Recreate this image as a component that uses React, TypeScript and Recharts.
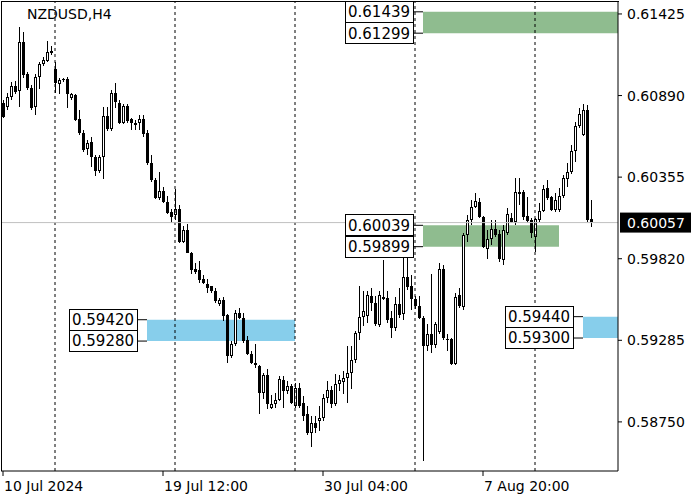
import React from 'react';
import { ComposedChart, Bar, XAxis, YAxis, ReferenceLine, ReferenceArea } from 'recharts';

const FONT = '"DejaVu Sans", sans-serif';

// H4 candles, oldest first
const opens = [
  0.60840, 0.60814, 0.60880, 0.60952, 0.60919, 0.61241, 0.61031, 0.60939, 0.60814, 0.61011,
  0.61096, 0.61116, 0.61169, 0.61064, 0.60965, 0.60998, 0.60998, 0.60873, 0.60893, 0.60735,
  0.60643, 0.60538, 0.60584, 0.60485, 0.60393, 0.60485, 0.60755, 0.60669, 0.60906, 0.60840,
  0.60709, 0.60821, 0.60735, 0.60696, 0.60709, 0.60735, 0.60643, 0.60446, 0.60334, 0.60216,
  0.60262, 0.60190, 0.60124, 0.60104, 0.60144, 0.59927, 0.60006, 0.59855, 0.59750, 0.59743,
  0.59684, 0.59657, 0.59638, 0.59611, 0.59525, 0.59552, 0.59453, 0.59184, 0.59262, 0.59466,
  0.59433, 0.59289, 0.59197, 0.59125, 0.59118, 0.58940, 0.59059, 0.58842, 0.58868, 0.58894,
  0.59026, 0.58954, 0.58987, 0.58855, 0.58973, 0.58875, 0.58803, 0.58678, 0.58743, 0.58757,
  0.58776, 0.58908, 0.58960, 0.58868, 0.59000, 0.59013, 0.59039, 0.59072, 0.59158, 0.59335,
  0.59440, 0.59446, 0.59578, 0.59532, 0.59387, 0.59565, 0.59565, 0.59433, 0.59368, 0.59525,
  0.59453, 0.59697, 0.59644, 0.59558, 0.59512, 0.59433, 0.59249, 0.59328, 0.59256, 0.59335,
  0.59750, 0.59295, 0.59295, 0.59131, 0.59585, 0.59499, 0.59973, 0.60072, 0.60157, 0.60190,
  0.60091, 0.59881, 0.59947, 0.60013, 0.59980, 0.59808, 0.59986, 0.60085, 0.60058, 0.60249,
  0.60255, 0.60098, 0.60072, 0.59960, 0.60072, 0.60131, 0.60282, 0.60223, 0.60137, 0.60137,
  0.60229, 0.60341, 0.60387, 0.60525, 0.60689, 0.60630, 0.60794, 0.60078,
];

const highs = [
  0.60860, 0.60906, 0.60978, 0.60985, 0.61340, 0.61307, 0.61044, 0.60958, 0.61031, 0.61110,
  0.61142, 0.61248, 0.61215, 0.61110, 0.61004, 0.61004, 0.61011, 0.60906, 0.60899, 0.60794,
  0.60663, 0.60597, 0.60617, 0.60499, 0.60499, 0.60814, 0.60814, 0.60926, 0.60972, 0.60860,
  0.60834, 0.60834, 0.60742, 0.60729, 0.60761, 0.60761, 0.60663, 0.60499, 0.60347, 0.60387,
  0.60288, 0.60229, 0.60144, 0.60275, 0.60170, 0.60032, 0.60045, 0.59861, 0.59795, 0.59802,
  0.59710, 0.59684, 0.59644, 0.59625, 0.59565, 0.59572, 0.59460, 0.59282, 0.59486, 0.59499,
  0.59466, 0.59315, 0.59217, 0.59262, 0.59125, 0.59072, 0.59098, 0.58927, 0.58940, 0.59052,
  0.59052, 0.59020, 0.59000, 0.59007, 0.59007, 0.58921, 0.58855, 0.58790, 0.58790, 0.58855,
  0.58934, 0.59020, 0.58987, 0.59066, 0.59059, 0.59085, 0.59249, 0.59249, 0.59348, 0.59638,
  0.59611, 0.59611, 0.59631, 0.59578, 0.59611, 0.59809, 0.59611, 0.59479, 0.59572, 0.59625,
  0.59822, 0.59822, 0.59710, 0.59578, 0.59578, 0.59446, 0.59394, 0.59723, 0.59407, 0.59795,
  0.59776, 0.59328, 0.59302, 0.59598, 0.59631, 0.59986, 0.60104, 0.60203, 0.60249, 0.60216,
  0.60098, 0.60006, 0.60072, 0.60072, 0.60006, 0.60039, 0.60150, 0.60118, 0.60347, 0.60347,
  0.60269, 0.60223, 0.60085, 0.60085, 0.60183, 0.60301, 0.60334, 0.60229, 0.60249, 0.60282,
  0.60367, 0.60446, 0.60564, 0.60716, 0.60807, 0.60834, 0.60827, 0.60203,
];

const lows = [
  0.60742, 0.60794, 0.60860, 0.60899, 0.60814, 0.61004, 0.60926, 0.60794, 0.60761, 0.60932,
  0.61083, 0.61110, 0.61156, 0.60906, 0.60899, 0.60978, 0.60807, 0.60860, 0.60722, 0.60630,
  0.60518, 0.60499, 0.60420, 0.60360, 0.60380, 0.60341, 0.60657, 0.60657, 0.60807, 0.60702,
  0.60702, 0.60709, 0.60663, 0.60663, 0.60663, 0.60617, 0.60433, 0.60321, 0.60209, 0.60203,
  0.60183, 0.60111, 0.60052, 0.60072, 0.59920, 0.59920, 0.59855, 0.59716, 0.59723, 0.59657,
  0.59651, 0.59592, 0.59598, 0.59525, 0.59512, 0.59414, 0.59138, 0.59171, 0.59249, 0.59427,
  0.59269, 0.59190, 0.59131, 0.59105, 0.58803, 0.58901, 0.58835, 0.58835, 0.58842, 0.58888,
  0.58842, 0.58934, 0.58868, 0.58842, 0.58842, 0.58757, 0.58665, 0.58586, 0.58678, 0.58691,
  0.58757, 0.58875, 0.58842, 0.58855, 0.58954, 0.58934, 0.58875, 0.58967, 0.59138, 0.59282,
  0.59381, 0.59400, 0.59479, 0.59381, 0.59374, 0.59545, 0.59400, 0.59302, 0.59348, 0.59427,
  0.59414, 0.59611, 0.59479, 0.59492, 0.59427, 0.58494, 0.59217, 0.59204, 0.59236, 0.59328,
  0.59282, 0.59217, 0.59125, 0.59125, 0.59499, 0.59479, 0.59927, 0.60039, 0.60150, 0.60085,
  0.59887, 0.59815, 0.59907, 0.59960, 0.59795, 0.59776, 0.59973, 0.60052, 0.60039, 0.60170,
  0.60072, 0.60052, 0.59953, 0.59861, 0.60058, 0.60124, 0.60203, 0.60131, 0.60124, 0.60124,
  0.60216, 0.60288, 0.60374, 0.60453, 0.60676, 0.60624, 0.60058, 0.60026,
];

const closes = [
  0.60748, 0.60880, 0.60952, 0.60912, 0.61241, 0.61024, 0.60939, 0.60807, 0.61011, 0.61096,
  0.61123, 0.61175, 0.61182, 0.60972, 0.60991, 0.60991, 0.60899, 0.60899, 0.60729, 0.60643,
  0.60531, 0.60577, 0.60485, 0.60393, 0.60485, 0.60755, 0.60669, 0.60906, 0.60847, 0.60709,
  0.60821, 0.60722, 0.60709, 0.60709, 0.60735, 0.60637, 0.60446, 0.60334, 0.60216, 0.60262,
  0.60190, 0.60118, 0.60091, 0.60144, 0.59927, 0.60006, 0.59855, 0.59743, 0.59730, 0.59677,
  0.59657, 0.59631, 0.59605, 0.59545, 0.59552, 0.59446, 0.59184, 0.59262, 0.59466, 0.59433,
  0.59282, 0.59197, 0.59138, 0.59138, 0.58940, 0.59059, 0.58868, 0.58868, 0.58894, 0.59033,
  0.58954, 0.58987, 0.58875, 0.58973, 0.58855, 0.58790, 0.58678, 0.58743, 0.58711, 0.58776,
  0.58908, 0.58960, 0.58868, 0.59000, 0.59026, 0.59039, 0.59072, 0.59158, 0.59335, 0.59440,
  0.59479, 0.59585, 0.59532, 0.59394, 0.59585, 0.59572, 0.59420, 0.59368, 0.59525, 0.59453,
  0.59697, 0.59631, 0.59558, 0.59512, 0.59433, 0.59249, 0.59328, 0.59256, 0.59394, 0.59750,
  0.59295, 0.59289, 0.59131, 0.59572, 0.59512, 0.59973, 0.60072, 0.60157, 0.60196, 0.60091,
  0.59894, 0.59947, 0.60013, 0.59973, 0.59815, 0.60006, 0.60111, 0.60058, 0.60255, 0.60255,
  0.60091, 0.60065, 0.59986, 0.60078, 0.60131, 0.60275, 0.60216, 0.60137, 0.60203, 0.60229,
  0.60347, 0.60387, 0.60525, 0.60689, 0.60768, 0.60794, 0.60072, 0.60057,
];

const xTicks = [0, 40, 80, 120];
const xTickLabels = ['10 Jul 2024', '19 Jul 12:00', '30 Jul 04:00', '7 Aug 20:00'];
const yTicks = [0.5875, 0.59285, 0.5982, 0.60355, 0.6089, 0.61425];
const separators = [13, 43, 73, 103, 133];
const lastPrice = 0.60057;

// supply / demand zones
const zoneTops = [0.61439, 0.60039, 0.5942, 0.5944];
const zoneBottoms = [0.61299, 0.59899, 0.5928, 0.593];
const zoneFrom = [105, 105, 36, 145];
const zoneTo = [153.75, 139, 73, 153.75];
const zoneColors = ['#8fbc8f', '#8fbc8f', '#87ceeb', '#87ceeb'];

const data = opens.map((o, i) => ({
  i,
  open: o,
  high: highs[i],
  low: lows[i],
  close: closes[i],
  range: [lows[i], highs[i]],
}));

const Candle = (props: any) => {
  const { x, y, width, height, payload } = props;
  if (!payload || payload.high == null) return null;
  const top = Math.min(y, y + height);
  const bottom = Math.max(y, y + height);
  const span = payload.high - payload.low || 1e-9;
  const toY = (v: number) => top + ((payload.high - v) / span) * (bottom - top);
  const cx = Math.round(x + width / 2);
  const yo = toY(payload.open);
  const yc = toY(payload.close);
  const bodyTop = Math.round(Math.min(yo, yc));
  const bodyH = Math.max(1, Math.round(Math.abs(yo - yc)));
  const up = payload.close > payload.open;
  return (
    <g shapeRendering="crispEdges">
      <rect x={cx} y={Math.round(top)} width={1} height={Math.max(1, Math.round(bottom - top))} fill="#000" />
      {up ? (
        <rect x={cx - 0.5} y={bodyTop + 0.5} width={2} height={Math.max(bodyH, 2) - 1} fill="#fff" stroke="#000" strokeWidth={1} />
      ) : (
        <rect x={cx - 1} y={bodyTop} width={3} height={bodyH} fill="#000" />
      )}
    </g>
  );
};

const DateTick = (props: any) => {
  const { x, y, payload } = props;
  const label = xTickLabels[xTicks.indexOf(payload.value)];
  return (
    <text x={x + 1} y={y} dy={11} fontSize={14} fontFamily={FONT} fill="#000" textAnchor="start">
      {label}
    </text>
  );
};

const boxLabel = (text: string) => (p: any) => {
  const vb = p.viewBox;
  if (!vb) return null;
  return (
    <g shapeRendering="crispEdges">
      <rect x={vb.x - 68} y={vb.y - 10.5} width={68} height={21} fill="#fff" stroke="#000" strokeWidth={1} />
      <text x={vb.x - 34} y={vb.y} dy="0.36em" textAnchor="middle" fontSize={15} fontFamily={FONT} fill="#000">
        {text}
      </text>
    </g>
  );
};

const priceLabel = (p: any) => {
  const vb = p.viewBox;
  if (!vb) return null;
  const right = vb.x + vb.width;
  return (
    <g>
      <rect x={right + 2} y={vb.y - 10} width={71} height={20} fill="#000" />
      <text x={right + 9} y={vb.y} dy="0.36em" fontSize={14} fontFamily={FONT} fill="#fff">
        {lastPrice.toFixed(5)}
      </text>
    </g>
  );
};

export default function App() {
  return (
    <div style={{ position: 'absolute', left: 0, top: 0, width: 700, height: 500, background: '#fff' }}>
      <ComposedChart
        width={700}
        height={500}
        data={data}
        margin={{ top: 1, right: 0, left: 1, bottom: 0 }}
      >
        <XAxis
          dataKey="i"
          type="number"
          domain={[-0.5, 153.75]}
          allowDataOverflow
          ticks={xTicks}
          interval={0}
          height={29}
          tickSize={5}
          tickMargin={4}
          axisLine={{ stroke: '#000' }}
          tickLine={{ stroke: '#000' }}
          tick={<DateTick />}
        />
        <YAxis
          orientation="right"
          domain={[0.58428, 0.6151]}
          allowDataOverflow
          ticks={yTicks}
          interval={0}
          width={82}
          tickSize={4}
          tickMargin={5}
          axisLine={{ stroke: '#000' }}
          tickLine={{ stroke: '#000' }}
          tickFormatter={(v: number) => v.toFixed(5)}
          tick={{ fontSize: 14, fill: '#000', fontFamily: FONT }}
        />
        {zoneTops.map((t, k) => (
          <ReferenceArea
            key={'z' + k}
            x1={zoneFrom[k]}
            x2={zoneTo[k]}
            y1={zoneBottoms[k]}
            y2={t}
            fill={zoneColors[k]}
            fillOpacity={1}
            stroke="none"
          />
        ))}
        {separators.map((s) => (
          <ReferenceLine key={'s' + s} x={s} stroke="#000" strokeDasharray="3 3" />
        ))}
        <ReferenceLine y={lastPrice} stroke="#c0c0c0" label={priceLabel} />
        <Bar dataKey="range" barSize={4} shape={<Candle />} isAnimationActive={false} />
        {zoneTops.map((t, k) => (
          <ReferenceLine
            key={'lt' + k}
            segment={[{ x: zoneFrom[k] - 2.5, y: t }, { x: zoneFrom[k], y: t }]}
            stroke="#000"
            label={boxLabel(t.toFixed(5))}
          />
        ))}
        {zoneBottoms.map((b, k) => (
          <ReferenceLine
            key={'lb' + k}
            segment={[{ x: zoneFrom[k] - 2.5, y: b }, { x: zoneFrom[k], y: b }]}
            stroke="#000"
            label={boxLabel(b.toFixed(5))}
          />
        ))}
      </ComposedChart>
      <div
        style={{
          position: 'absolute',
          left: 1,
          top: 1,
          width: 618,
          height: 470,
          boxSizing: 'border-box',
          borderLeft: '1px solid #000',
          borderTop: '1px solid #000',
          pointerEvents: 'none',
        }}
      />
      <div
        style={{
          position: 'absolute',
          left: 27,
          top: 6,
          fontFamily: FONT,
          fontSize: 14,
          color: '#000',
          lineHeight: '16px',
        }}
      >
        NZDUSD,H4
      </div>
    </div>
  );
}
